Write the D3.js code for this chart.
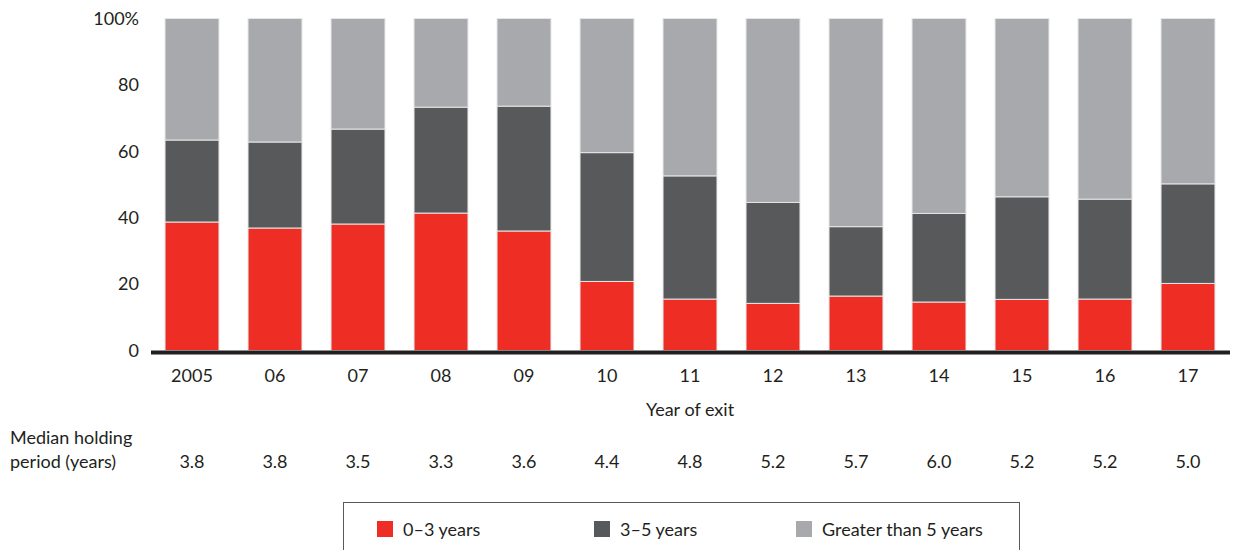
<!DOCTYPE html>
<html>
<head>
<meta charset="utf-8">
<script src="https://cdn.jsdelivr.net/npm/d3@7"></script>
<style>
  body { margin: 0; background: #fff; }
  svg text { font-family: "Lato", "Noto Sans", sans-serif; fill: #231f20; }
</style>
</head>
<body>
<div id="chart"></div>
<script>
// data
const years = ["2005", "06", "07", "08", "09", "10", "11", "12", "13", "14", "15", "16", "17"];
const upTo3 = [38.7, 36.9, 38.1, 41.4, 36.0, 20.8, 15.5, 14.2, 16.4, 14.6, 15.4, 15.5, 20.2];
const from3to5 = [24.7, 25.9, 28.6, 31.9, 37.6, 38.8, 37.1, 30.4, 20.9, 26.7, 30.9, 30.1, 30.0];
const over5 = [36.6, 37.2, 33.3, 26.7, 26.4, 40.4, 47.4, 55.4, 62.7, 58.7, 53.7, 54.4, 49.8];
const medians = ["3.8", "3.8", "3.5", "3.3", "3.6", "4.4", "4.8", "5.2", "5.7", "6.0", "5.2", "5.2", "5.0"];
const yTicks = [0, 20, 40, 60, 80, 100];
const keys = ["a", "b", "c"];
const labels = ["0\u20133 years", "3\u20135 years", "Greater than 5 years"];
const colors = ["#ee2d24", "#58595b", "#a7a9ac"];

const width = 1233, height = 550;
const svg = d3.select("#chart").append("svg")
  .attr("width", width).attr("height", height);

const rows = years.map((y, i) => ({ year: y, a: upTo3[i], b: from3to5[i], c: over5[i] }));
const stacked = d3.stack().keys(keys)(rows);

const x = d3.scaleBand()
  .domain(years)
  .range([150.5, 1229.5])
  .paddingInner(0.35)
  .paddingOuter(0.175);

const y = d3.scaleLinear().domain([0, 100]).range([350.5, 18.5]);

// bars
svg.append("g").selectAll("g")
  .data(stacked)
  .join("g")
  .attr("fill", (d, i) => colors[i])
  .selectAll("rect")
  .data(d => d)
  .join("rect")
  .attr("x", d => x(d.data.year))
  .attr("width", x.bandwidth())
  .attr("y", d => y(d[1]))
  .attr("height", d => y(d[0]) - y(d[1]))
  .attr("stroke", "#e6e6e6")
  .attr("stroke-width", 1);

// y tick labels
svg.append("g").selectAll("text")
  .data(yTicks)
  .join("text")
  .attr("x", 139)
  .attr("y", d => y(d))
  .attr("dy", "0.35em")
  .attr("text-anchor", "end")
  .attr("font-size", 18)
  .text(d => d === 100 ? "100%" : d);

// x axis line
svg.append("line")
  .attr("x1", 151).attr("x2", 1230)
  .attr("y1", 352.5).attr("y2", 352.5)
  .attr("stroke", "#231f20")
  .attr("stroke-width", 4);

// year labels
svg.append("g").selectAll("text")
  .data(years)
  .join("text")
  .attr("x", d => x(d) + x.bandwidth() / 2)
  .attr("y", 382)
  .attr("text-anchor", "middle")
  .attr("font-size", 18)
  .text(d => d);

svg.append("text")
  .attr("x", 690).attr("y", 416)
  .attr("text-anchor", "middle")
  .attr("font-size", 18)
  .text("Year of exit");

svg.append("text").attr("x", 10).attr("y", 444).attr("font-size", 18).text("Median holding");
svg.append("text").attr("x", 10).attr("y", 468).attr("font-size", 18).text("period (years)");

svg.append("g").selectAll("text")
  .data(medians)
  .join("text")
  .attr("x", (d, i) => x(years[i]) + x.bandwidth() / 2)
  .attr("y", 468)
  .attr("text-anchor", "middle")
  .attr("font-size", 18)
  .text(d => d);

// legend
svg.append("rect")
  .attr("x", 343.5).attr("y", 502.5)
  .attr("width", 676).attr("height", 60)
  .attr("fill", "none")
  .attr("stroke", "#58595b")
  .attr("stroke-width", 1);

const legendX = [377, 594, 796];
const lg = svg.append("g").selectAll("g")
  .data(labels)
  .join("g")
  .attr("transform", (d, i) => `translate(${legendX[i]},521)`);
lg.append("rect").attr("width", 16).attr("height", 16).attr("fill", (d, i) => colors[i]);
lg.append("text").attr("x", 26).attr("y", 15).attr("font-size", 18).text(d => d);
</script>
</body>
</html>
